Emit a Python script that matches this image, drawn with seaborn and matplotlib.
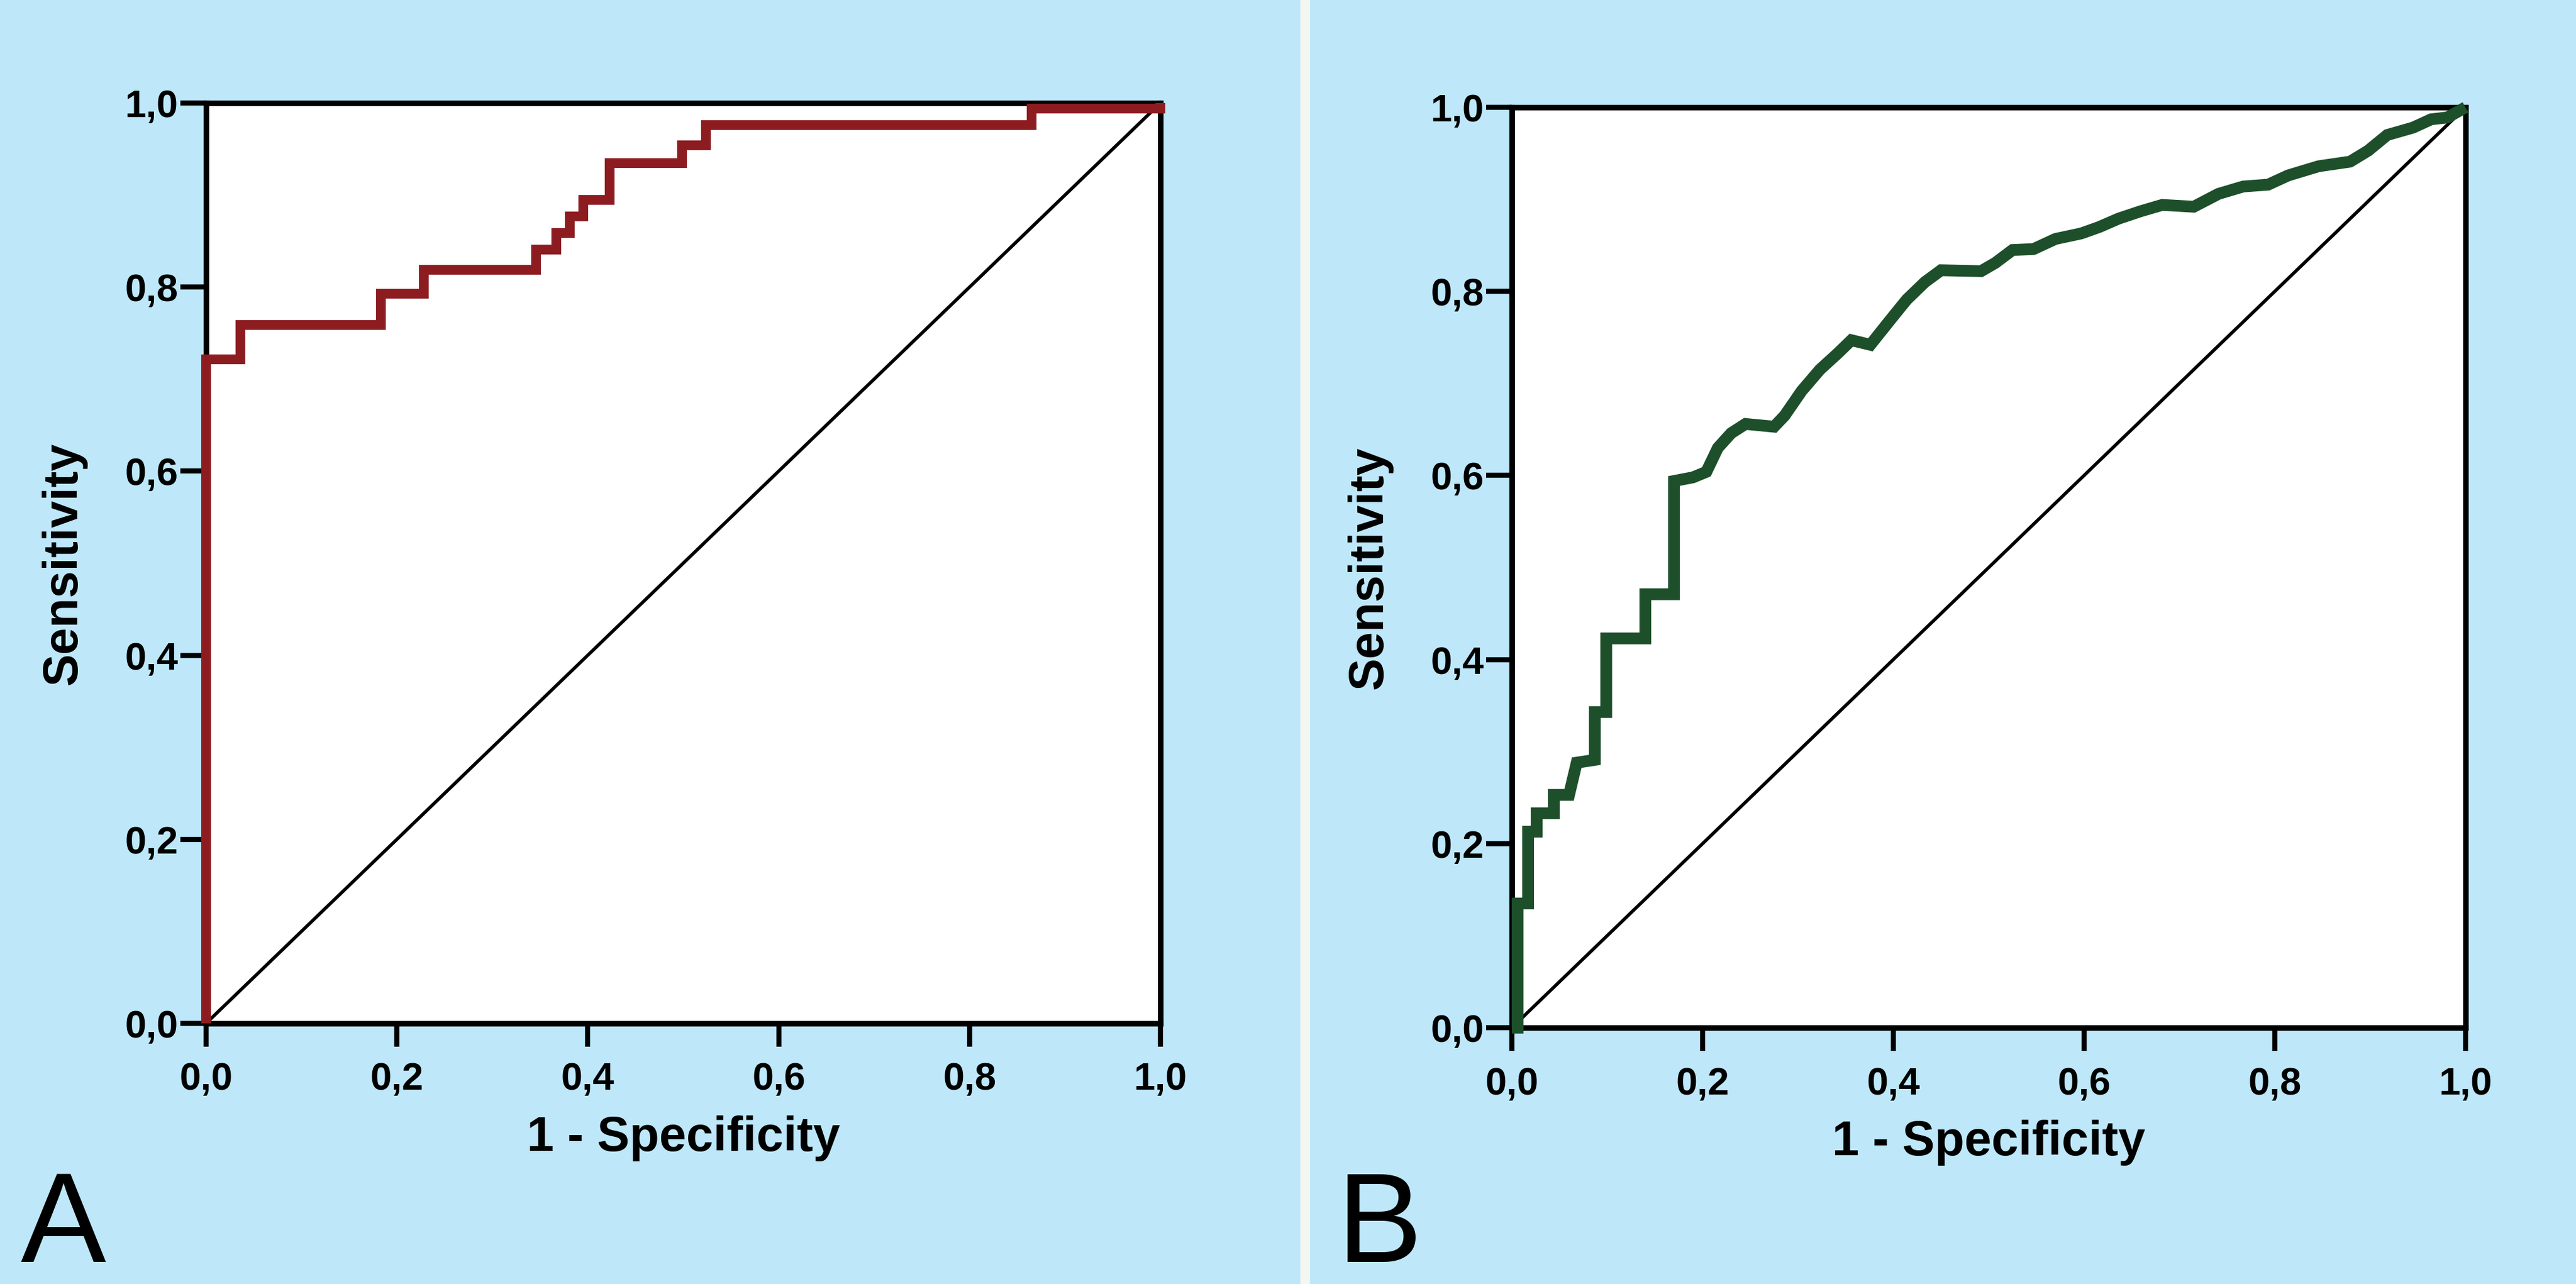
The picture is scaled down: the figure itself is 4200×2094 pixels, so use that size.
import matplotlib
matplotlib.use('Agg')
import matplotlib.pyplot as plt
import seaborn as sns
import pandas as pd
from matplotlib.lines import Line2D

# estilo
sns.set_style("ticks")
plt.rcParams['font.family'] = ['Liberation Sans', 'DejaVu Sans']
plt.rcParams['text.color'] = 'black'
plt.rcParams['axes.labelcolor'] = 'black'

# datos
# A: curva escalonada (esquinas, steps-post)
fpr_a = [0.0, 0.0, 0.036, 0.183, 0.228, 0.346, 0.367, 0.381, 0.395, 0.423,
         0.499, 0.524, 0.865, 1.0]
tpr_a = [0.0, 0.7215, 0.759, 0.793, 0.819, 0.841, 0.859, 0.877, 0.895, 0.935,
         0.954, 0.976, 0.994, 1.0]

# B: curva mas suave
fpr_b = [0.0, 0.006, 0.006, 0.017, 0.017, 0.026, 0.026, 0.044, 0.044, 0.060,
         0.068, 0.087, 0.087, 0.099, 0.099, 0.140, 0.140, 0.170, 0.170, 0.190,
         0.204, 0.216, 0.230, 0.245, 0.275, 0.286, 0.304, 0.323, 0.341, 0.356,
         0.376, 0.396, 0.414, 0.433, 0.450, 0.492, 0.507, 0.525, 0.547, 0.570,
         0.597, 0.616, 0.636, 0.659, 0.682, 0.715, 0.741, 0.767, 0.793, 0.814,
         0.846, 0.879, 0.898, 0.918, 0.945, 0.964, 0.981, 1.0]
tpr_b = [0.0, 0.0, 0.135, 0.135, 0.213, 0.213, 0.233, 0.233, 0.253, 0.253,
         0.288, 0.291, 0.343, 0.343, 0.423, 0.423, 0.471, 0.471, 0.594, 0.598,
         0.604, 0.630, 0.646, 0.656, 0.653, 0.665, 0.692, 0.715, 0.732, 0.747,
         0.742, 0.768, 0.791, 0.810, 0.823, 0.822, 0.831, 0.845, 0.846, 0.857,
         0.863, 0.870, 0.879, 0.887, 0.894, 0.892, 0.906, 0.914, 0.916, 0.926,
         0.936, 0.941, 0.953, 0.970, 0.978, 0.987, 0.989, 1.0]

diag = [0.0, 1.0]
ticks = [0.0, 0.2, 0.4, 0.6, 0.8, 1.0]
tick_labels = ['0,0', '0,2', '0,4', '0,6', '0,8', '1,0']
panel_labels = ['A', 'B']

bg = '#bee8fa'
red = '#8c1c20'
green = '#1d4f2a'

fig = plt.figure(figsize=(14, 6.98), dpi=300, facecolor=bg)
ax_a = fig.add_axes([0.080, 0.203, 0.3705, 0.7168])
ax_b = fig.add_axes([0.5869, 0.1996, 0.3702, 0.7168])

df_a = pd.DataFrame({'fpr': fpr_a, 'tpr': tpr_a})
df_b = pd.DataFrame({'fpr': fpr_b, 'tpr': tpr_b})
df_d = pd.DataFrame({'fpr': diag, 'tpr': diag})

for ax in (ax_a, ax_b):
    ax.set_facecolor('white')
    sns.lineplot(data=df_d, x='fpr', y='tpr', ax=ax, color='black', lw=1.3,
                 estimator=None, sort=False, zorder=3)

sns.lineplot(data=df_a, x='fpr', y='tpr', ax=ax_a, color=red, lw=3.8,
             estimator=None, sort=False, drawstyle='steps-post',
             solid_joinstyle='miter', solid_capstyle='butt',
             clip_on=False, zorder=4)
sns.lineplot(data=df_b, x='fpr', y='tpr', ax=ax_b, color=green, lw=4.6,
             estimator=None, sort=False, solid_joinstyle='miter',
             solid_capstyle='butt', clip_on=False, zorder=4)

for ax, lab in zip((ax_a, ax_b), panel_labels):
    ax.set_xlim(0, 1)
    ax.set_ylim(0, 1)
    ax.set_xticks(ticks)
    ax.set_xticklabels(tick_labels)
    ax.set_yticks(ticks)
    ax.set_yticklabels(tick_labels)
    for s in ax.spines.values():
        s.set_visible(True)
        s.set_color('black')
        s.set_linewidth(2.2)
    ax.tick_params(axis='x', direction='out', length=9, width=2.0, pad=6,
                   labelsize=15, colors='black', labelcolor='black')
    ax.tick_params(axis='y', direction='out', length=10, width=2.0, pad=1,
                   labelsize=15, colors='black', labelcolor='black')
    for t in ax.get_xticklabels() + ax.get_yticklabels():
        t.set_fontweight('bold')
    ax.set_xlabel('1 - Specificity', fontsize=19, fontweight='bold', color='black')
    ax.set_ylabel('Sensitivity', fontsize=19, fontweight='bold', color='black')
    ax.xaxis.set_label_coords(0.5, -0.100)
    ax.yaxis.set_label_coords(-0.125, 0.5)

# letras de panel
fig.text(0.008, 0.017, panel_labels[0], fontsize=50, ha='left', va='baseline',
         color='black')
fig.text(0.519, 0.017, panel_labels[1], fontsize=50, ha='left', va='baseline',
         color='black')

# separador blanco entre paneles
fig.add_artist(Line2D([0.5067, 0.5067], [0, 1], transform=fig.transFigure,
                      color='#f4f6f2', lw=3.8))

plt.savefig('out.png', dpi=300, facecolor=bg)
